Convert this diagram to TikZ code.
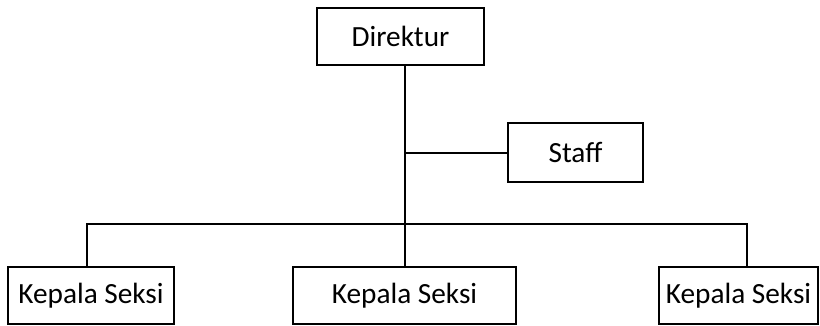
\documentclass[tikz,border=0pt]{standalone}
\usepackage{fontspec}
\setmainfont{Carlito}
\usepackage{tikz}
\usetikzlibrary{positioning}

\begin{document}
\begin{tikzpicture}[x=0.03cm, y=-0.03cm,
                    every node/.style={draw=black, line width=1.7pt, align=center,
                                       inner sep=0pt, minimum height=1.71cm,
                                       font=\fontsize{25}{30}\selectfont},
                    link/.style={draw=black, line width=1.7pt}]
\useasboundingbox (0,0) rectangle (820,325);
\node[minimum width=5.01cm] (dir) at (400.5,36.5) {Direktur};
\node[minimum width=4.05cm, minimum height=1.77cm] (staff) at (575.5,152.5) {Staff};
\node[minimum width=4.98cm] (ks1) at (91,295.5) {Kepala Seksi};
\node[minimum width=6.69cm] (ks2) at (404.5,295.5) {Kepala Seksi};
\node[minimum width=4.77cm] (ks3) at (738.5,295.5) {Kepala Seksi};
\coordinate (lbus) at (87,224);
\coordinate (rbus) at (747,224);
\draw[link] (dir.south -| ks2.north) -- (ks2.north);
\draw[link] (staff.west) -- (staff.west -| ks2.north);
\draw[link] (ks1.north -| lbus) |- (rbus) -- (ks3.north -| rbus);
\end{tikzpicture}
\end{document}
